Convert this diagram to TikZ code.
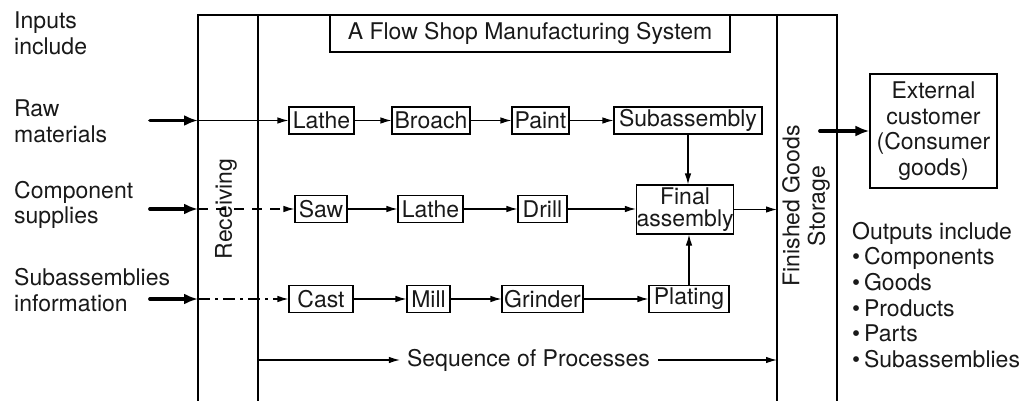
\documentclass[tikz,border=0pt]{standalone}
\usepackage{fontspec}
\setmainfont{TeX Gyre Heros}
\usetikzlibrary{arrows.meta}
\begin{document}
\begin{tikzpicture}[x=1pt,y=-1pt,
  every node/.style={font=\fontsize{23}{25.6}\selectfont, text=black!90},
  frame/.style={line width=1.1pt},
  proc/.style={draw, line width=1.1pt, inner sep=0pt, minimum height=27pt},
  label/.style={align=left, anchor=west, inner sep=0pt},
  arr/.style={line width=1.1pt, -{Latex[length=11pt,width=6.5pt]}},
  heavy/.style={line width=3.8pt, line cap=round, -{Latex[length=14pt,width=11pt]}},
  dashline/.style={arr, dash pattern=on 10pt off 8pt},
  dashdotline/.style={arr, dash pattern=on 12pt off 5pt on 3pt off 5pt}]
\useasboundingbox (0,0) rectangle (1033,401);

% plant frame: receiving and finished goods columns
\draw[frame] (198,401) -- (198,15) -- (837,15) -- (837,401);
\draw[frame] (258,15) -- (258,401);
\draw[frame] (777,15) -- (777,401);

\node[proc, minimum width=400pt, minimum height=37pt] (title) at (530,33.5) {A Flow Shop Manufacturing System};

\node[rotate=90, inner sep=0pt] (recv) at (226,209) {Receiving};
\node[rotate=90, align=center, inner sep=0pt] (fgs) at (806,206) {Finished Goods\\Storage};

% inputs
\node[label] (in1) at (14,33.5) {Inputs\\include};
\node[label] (in2) at (14,121) {Raw\\materials};
\node[label] (in3) at (14,205) {Component\\supplies};
\node[label] (in4) at (14,290) {Subassemblies\\information};

% row 1
\node[proc, minimum width=65pt] (lathe1) at (321.5,120.5) {Lathe};
\node[proc, minimum width=78pt] (broach) at (431,120.5) {Broach};
\node[proc, minimum width=57pt] (paint) at (540.5,120.5) {Paint};
\node[proc, minimum width=148pt] (sub) at (688,120.5) {Subassembly};

% row 2
\node[proc, minimum width=52pt] (saw) at (321,209) {Saw};
\node[proc, minimum width=65pt] (lathe2) at (430.5,209) {Lathe};
\node[proc, minimum width=49pt] (drill) at (542.5,209) {Drill};
\node[proc, minimum width=96pt, minimum height=49pt, align=center] (final) at (685,209.5) {Final\\[-3pt]assembly};

% row 3
\node[proc, minimum width=64pt] (cast) at (321,299) {Cast};
\node[proc, minimum width=43pt] (mill) at (428.5,299) {Mill};
\node[proc, minimum width=81pt] (grind) at (542.5,299) {Grinder};
\node[proc, minimum width=80pt] (plate) at (689,299) {Plating};

% entry points on the receiving wall
\coordinate (s1) at (150,120.5);
\coordinate (e1) at (198,120.5);
\coordinate (s2) at (150,209);
\coordinate (e2) at (198,209);
\coordinate (s3) at (150,299);
\coordinate (e3) at (198,299);

\draw[heavy] (s1) -- (e1);
\draw[heavy] (s2) -- (e2);
\draw[heavy] (s3) -- (e3);
\draw[arr] (e1) -- (lathe1);
\draw[dashline] (e2) -- (saw);
\draw[dashdotline] (e3) -- (cast);

% process flows
\draw[arr] (lathe1) -- (broach);
\draw[arr] (broach) -- (paint);
\draw[arr] (paint) -- (sub);
\draw[arr] (saw) -- (lathe2);
\draw[arr] (lathe2) -- (drill);
\draw[arr] (drill) -- (drill -| final.west);
\draw[arr] (cast) -- (mill);
\draw[arr] (mill) -- (grind);
\draw[arr] (grind) -- (plate);
\draw[arr] (sub.south) -- (sub.south |- final.north);
\draw[arr] (plate.north) -- (plate.north |- final.south);
\coordinate (fgin) at (777,209.5);
\draw[arr] (final) -- (fgin);

% sequence of processes
\node[inner sep=0pt] (seq) at (528.5,360) {Sequence of Processes};
\coordinate (seqL) at (258,360);
\coordinate (seqR) at (777,360);
\draw[arr] (seqL) -- ([xshift=-7pt]seq.west);
\draw[arr] ([xshift=8pt]seq.east) -- (seqR);

% outputs
\node[proc, minimum width=127pt, minimum height=114pt, align=center] (cust) at (933.5,131) {External\\customer\\(Consumer\\goods)};
\coordinate (o1) at (820,131);
\draw[heavy] (o1) -- (cust);

\node[align=left, anchor=north west, inner sep=0pt] (outs) at (852,222)
  {Outputs include\\\textbullet\,Components\\\textbullet\,Goods\\\textbullet\,Products\\\textbullet\,Parts\\\textbullet\,Subassemblies};
\end{tikzpicture}
\end{document}
